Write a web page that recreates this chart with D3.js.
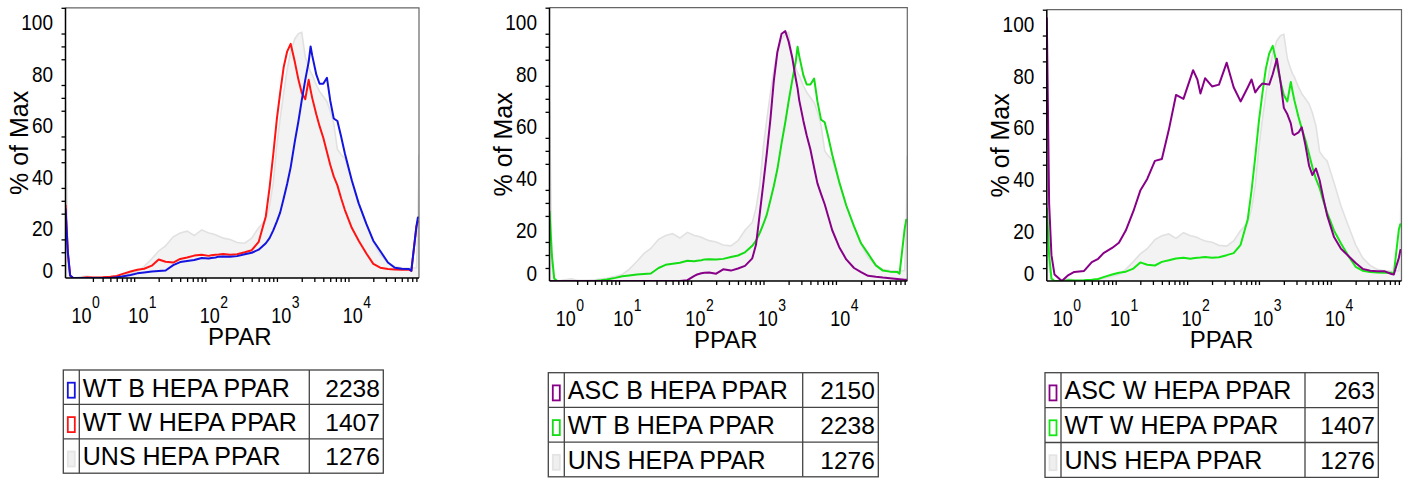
<!DOCTYPE html>
<html>
<head>
<meta charset="utf-8">
<script src="https://cdn.jsdelivr.net/npm/d3@7"></script>
<style>
body { margin: 0; background: #fff; }
svg { display: block; font-family: "Liberation Sans", Arial, sans-serif; }
</style>
</head>
<body>
<svg></svg>
<script>
// PPAR channel bins (shared by all samples)
const ppar = [0, 0.15, 0.3, 0.5, 1, 1.5, 2, 3, 4, 5,
	6, 8, 10, 12.5, 16, 20, 25, 32, 40, 50,
	63, 80, 100, 109, 125, 138, 160, 200, 250, 320,
	400, 500, 630, 710, 800, 900, 1000, 1120, 1250, 1400,
	1600, 1800, 2000, 2240, 2500, 2660, 2800, 3200, 3550, 4000,
	4500, 5000, 5600, 6300, 7100, 8000, 10000, 12500, 16000, 20000,
	25000, 32000, 40000, 50000, 63000, 68000, 80000, 84000, 87000];

// % of Max per bin
const unsHepa = [69, 6, 0, 0, 0.5, 0.8, 0.3, 0.3, 0.5, 0.8,
	1, 1.8, 2.5, 4.5, 7.5, 10.5, 12.5, 16, 17.5, 18.2,
	16.5, 18.7, 17.5, 17.3, 16.8, 16.2, 15.5, 15, 13.8, 13.5,
	15.5, 19.5, 22.5, 28, 37, 52, 62, 72, 81, 88,
	93, 95, 95.5, 86, 82, 80, 79, 75, 72.5, 70.5,
	68.5, 65, 60, 50, 48, 46.5, 38, 29, 21, 14,
	9, 6, 4.5, 4, 3.8, 3.8, 4, 20, 48];
const wtB = [27, 10, 1, 0, 0, 0, 0, 0, 0, 0.3,
	0.6, 1.2, 1.8, 2.1, 2.5, 2.7, 2.9, 5, 6.2, 6.6,
	7, 7.8, 7.6, 7.8, 8, 8.3, 8.4, 8.3, 8.5, 9.2,
	9.8, 11, 13.5, 15.5, 18.5, 22, 25.5, 31, 36.5, 43,
	53, 61, 69, 77, 84, 90, 86.5, 79, 75.5, 75.5,
	77.8, 69, 62, 61, 55, 48.5, 38, 29, 21, 14.5,
	10.5, 6, 4, 3.6, 3.5, 2.8, 20, 23.5, 23.5];
const wtW = [28.4, 10, 1, 0, 0, 0.3, 0.2, 0.3, 0.5, 0.8,
	1.5, 2.5, 3.2, 3.6, 4.8, 7.2, 6.3, 6, 7.4, 8,
	8.7, 9, 8.6, 8.8, 9, 9.1, 9.3, 9, 9.2, 10,
	10.8, 14, 24, 35, 48, 62, 72, 82, 88, 91,
	84, 77, 72, 69.5, 77, 73, 70, 63.5, 59, 54.5,
	49, 44, 39.5, 36, 31, 26.5, 19.5, 14.5, 9.5, 5.5,
	4, 3.5, 3.3, 3.2, 3.2, 2.8, 20, 22, 22];
const ascB = [0, 0, 0, 0, 0, 0, 0, 0, 0, 0,
	0, 0, 0, 0, 0, 0, 0, 0, 0, 0,
	0, 0.3, 2, 2.5, 3, 3.2, 3.3, 2.8, 4.5, 4,
	4.8, 5.8, 8.7, 14, 26, 38, 49, 62, 77, 88,
	95, 96, 92, 86, 78, 74, 69.5, 61.5, 56, 50.5,
	43.5, 37.5, 33.5, 29.5, 24.5, 19.5, 13, 8.3, 5, 3.4,
	2, 1.6, 1.3, 1.1, 0.8, 0.7, 0.5, 0.5, 0.5];
const ascW = [102, 30, 10, 2.5, 0, 2.3, 3.5, 3.9, 7.3, 8.6,
	10.8, 12.8, 14.8, 19.5, 27, 35, 39.5, 46.5, 47.2, 58.5,
	72, 70.5, 78.5, 81.6, 78, 72.6, 78.5, 75.3, 76, 84.5,
	75, 69.5, 75, 78, 73, 75, 76.4, 76.2, 76, 80,
	86, 77, 67, 64.5, 61, 57, 56.5, 57.5, 59.5, 52.5,
	44.5, 41, 43.5, 39, 32, 25.5, 17, 12.5, 9.6, 7,
	4.7, 4, 3.8, 3.8, 2.7, 2.5, 9, 12, 12];

// legends
const legendNames = [
	['WT B HEPA PPAR', 'WT W HEPA PPAR', 'UNS HEPA PPAR'],
	['ASC B HEPA PPAR', 'WT B HEPA PPAR', 'UNS HEPA PPAR'],
	['ASC W HEPA PPAR', 'WT W HEPA PPAR', 'UNS HEPA PPAR']
];
const legendValues = [[2238, 1407, 1276], [2150, 2238, 1276], [263, 1407, 1276]];

// axis ticks
const yTicks = [0, 20, 40, 60, 80, 100];
const yMinor = [5, 10, 15, 25, 30, 35, 45, 50, 55, 65, 70, 75, 85, 90, 95, 105];
const xDecades = [0, 1, 2, 3, 4];
const xMinorSteps = [2, 3, 4, 5, 6, 7, 8, 9];
const xMax = 87000;
const yMax = 105;

const sampleData = {
	'WT B HEPA PPAR': wtB,
	'WT W HEPA PPAR': wtW,
	'ASC B HEPA PPAR': ascB,
	'ASC W HEPA PPAR': ascW,
	'UNS HEPA PPAR': unsHepa
};

const width = 1411;
const height = 478;
const panelColors = [['#1414e0', '#ff1414'], ['#880088', '#14dc14'], ['#880088', '#14e614']];
const layout = [
	{ x0: 65.5, x1: 419, y0: 7.8, y1: 278, leg: { l: 63.3, c1: 79.3, c2: 309.3, r: 383.3, t: 370, rh: 34.4 } },
	{ x0: 549.5, x1: 907.3, y0: 7.7, y1: 281, leg: { l: 548.3, c1: 564.3, c2: 802.7, r: 878.3, t: 372.7, rh: 34.7 } },
	{ x0: 1046.8, x1: 1401.5, y0: 9.7, y1: 281, leg: { l: 1045, c1: 1061, c2: 1305, r: 1378.3, t: 372.7, rh: 34.9 } }
];
const tickStretch = 1.2;

// biexponential-like display transform
const T = v => Math.asinh(v / 2);

const svg = d3.select('svg')
	.attr('width', width)
	.attr('height', height);

layout.forEach((L, p) => drawPanel(L, p));

function stretchedText(g, x, y, str, size, anchor) {
	return g.append('text')
		.attr('transform', `translate(${x},${y}) scale(1,${tickStretch})`)
		.attr('text-anchor', anchor)
		.attr('font-size', size)
		.attr('fill', '#000')
		.text(str);
}

function drawPanel(L, p) {
	const x = d3.scaleLinear().domain([T(0), T(xMax)]).range([L.x0, L.x1]);
	const y = d3.scaleLinear().domain([0, yMax]).range([L.y1, L.y0]);
	const g = svg.append('g');

	const clipId = 'clip' + p;
	svg.append('clipPath').attr('id', clipId)
		.append('rect')
		.attr('x', L.x0).attr('y', L.y0)
		.attr('width', L.x1 - L.x0).attr('height', L.y1 - L.y0);

	const plot = g.append('g').attr('clip-path', `url(#${clipId})`);
	const names = legendNames[p];

	const area = d3.area()
		.x((d, i) => x(T(ppar[i])))
		.y0(y(0))
		.y1(d => y(d));
	const line = d3.line()
		.x((d, i) => x(T(ppar[i])))
		.y(d => y(d));

	plot.append('path')
		.datum(sampleData[names[2]])
		.attr('d', area)
		.attr('fill', '#f3f3f3')
		.attr('stroke', '#e1e1e1')
		.attr('stroke-width', 1.6);

	[1, 0].forEach(k => {
		plot.append('path')
			.datum(sampleData[names[k]])
			.attr('d', line)
			.attr('fill', 'none')
			.attr('stroke', panelColors[p][k])
			.attr('stroke-width', 2)
			.attr('stroke-linejoin', 'round');
	});

	// frame
	g.append('path')
		.attr('d', `M${L.x0},${L.y0}H${L.x1}V${L.y1}`)
		.attr('fill', 'none')
		.attr('stroke', '#666')
		.attr('stroke-width', 1.2);

	// y axis
	const yAxisG = g.append('g').attr('transform', `translate(${L.x0},0)`);
	yAxisG.call(d3.axisLeft(y).tickValues(yTicks).tickSize(7).tickFormat(''));
	yAxisG.call(d3.axisLeft(y).tickValues(yMinor).tickSize(4).tickFormat(''));
	yAxisG.selectAll('.domain').remove();
	yAxisG.selectAll('line').attr('stroke', '#000').attr('stroke-width', 1.3);
	g.append('line')
		.attr('x1', L.x0).attr('x2', L.x0)
		.attr('y1', L.y0).attr('y2', L.y1)
		.attr('stroke', '#000').attr('stroke-width', 1.5);

	yTicks.forEach(t => {
		const ty = t === 0 ? y(t) - 0.5 : y(t) + 9.5;
		stretchedText(g, L.x0 - 12.5, ty, t, 19, 'end');
	});

	// x axis
	const xAxisG = g.append('g').attr('transform', `translate(0,${L.y1})`);
	const xMajor = xDecades.map(n => T(Math.pow(10, n)));
	const xMinor = xDecades
		.flatMap(n => xMinorSteps.map(k => k * Math.pow(10, n)))
		.filter(v => v <= xMax)
		.map(T);
	xAxisG.call(d3.axisBottom(x).tickValues(xMajor).tickSize(8).tickFormat(''));
	xAxisG.call(d3.axisBottom(x).tickValues(xMinor).tickSize(4).tickFormat(''));
	xAxisG.selectAll('.domain').remove();
	xAxisG.selectAll('line').attr('stroke', '#000').attr('stroke-width', 1.3);
	g.append('line')
		.attr('x1', L.x0).attr('x2', L.x1)
		.attr('y1', L.y1).attr('y2', L.y1)
		.attr('stroke', '#000').attr('stroke-width', 1.5);

	xDecades.forEach(n => {
		const cx = x(T(Math.pow(10, n))) + 1;
		stretchedText(g, cx, L.y1 + 44.5, '10', 18, 'middle');
		stretchedText(g, cx + 10.5, L.y1 + 29.5, n, 14, 'start');
	});

	// axis titles
	g.append('text')
		.attr('x', (L.x0 + L.x1) / 2 - 2.5)
		.attr('y', L.y1 + 67)
		.attr('text-anchor', 'middle')
		.attr('font-size', 24)
		.text('PPAR');

	g.append('text')
		.attr('transform', `translate(${L.x0 - 37.5},${(L.y0 + L.y1) / 2}) rotate(-90)`)
		.attr('text-anchor', 'middle')
		.attr('font-size', 25)
		.text('% of Max');

	drawLegend(L.leg, p);
}

function drawLegend(leg, p) {
	const g = svg.append('g');
	const names = legendNames[p];
	const rows = names.map((name, i) => ({ name, value: legendValues[p][i], i }));
	const bottom = leg.t + leg.rh * rows.length;

	g.append('rect')
		.attr('x', leg.l).attr('y', leg.t)
		.attr('width', leg.r - leg.l).attr('height', bottom - leg.t)
		.attr('fill', '#fff').attr('stroke', '#444').attr('stroke-width', 1.3);

	[leg.c1, leg.c2].forEach(cx => {
		g.append('line')
			.attr('x1', cx).attr('x2', cx)
			.attr('y1', leg.t).attr('y2', bottom)
			.attr('stroke', '#444').attr('stroke-width', 1.3);
	});

	rows.slice(1).forEach(r => {
		g.append('line')
			.attr('x1', leg.l).attr('x2', leg.r)
			.attr('y1', leg.t + leg.rh * r.i).attr('y2', leg.t + leg.rh * r.i)
			.attr('stroke', '#444').attr('stroke-width', 1.3);
	});

	const rowG = g.selectAll('g.row').data(rows).enter()
		.append('g')
		.attr('class', 'row')
		.attr('transform', d => `translate(0,${leg.t + leg.rh * d.i})`);

	rowG.append('rect')
		.attr('x', leg.l + 4.5)
		.attr('y', 12.7)
		.attr('width', 7)
		.attr('height', 15)
		.attr('fill', d => d.i === 2 ? '#efefef' : '#fff')
		.attr('stroke', d => d.i === 2 ? '#e4e4e4' : panelColors[p][d.i])
		.attr('stroke-width', 1.8);

	rowG.append('text')
		.attr('x', leg.c1 + 3.5)
		.attr('y', 26.7)
		.attr('font-size', 25)
		.attr('textLength', d => d.name.length > 14 ? null : null)
		.text(d => d.name);

	rowG.append('text')
		.attr('x', leg.r - 3.5)
		.attr('y', 26.7)
		.attr('text-anchor', 'end')
		.attr('font-size', 24.5)
		.text(d => d.value);
}
</script>
</body>
</html>
